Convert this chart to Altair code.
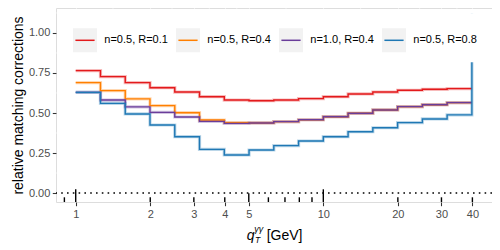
import altair as alt
import pandas as pd

# ---- data ----
edges = [1.0, 1.259, 1.585, 1.995, 2.512, 3.162, 3.981, 5.012, 6.310, 7.943,
         10.0, 12.589, 15.849, 19.953, 25.119, 31.623, 39.811]
names = ["n=0.5, R=0.1", "n=0.5, R=0.4", "n=1.0, R=0.4", "n=0.5, R=0.8"]
colors = ["#E31A1C", "#FF7F00", "#6A3D9A", "#1F78B4"]
red = [0.765, 0.727, 0.690, 0.658, 0.631, 0.602, 0.581, 0.577, 0.581, 0.590,
       0.602, 0.619, 0.631, 0.642, 0.648, 0.652]
orange = [0.690, 0.640, 0.588, 0.546, 0.502, 0.456, 0.440, 0.438, 0.446, 0.458,
          0.477, 0.498, 0.519, 0.540, 0.552, 0.565]
purple = [0.629, 0.581, 0.538, 0.504, 0.475, 0.448, 0.435, 0.438, 0.446, 0.458,
          0.477, 0.498, 0.519, 0.540, 0.552, 0.565]
blue = [0.629, 0.560, 0.494, 0.425, 0.352, 0.273, 0.238, 0.269, 0.296, 0.325,
        0.352, 0.383, 0.408, 0.440, 0.463, 0.488]
end_values = [0.652, 0.565, 0.565, 1.12]

x_major = [1, 2, 3, 4, 5, 10, 20, 30, 40]
x_minor = [1.414, 2.449, 3.464, 4.472, 7.071, 14.142, 24.495, 34.641]
y_major = [0.0, 0.25, 0.5, 0.75, 1.0]
y_minor = [0.125, 0.375, 0.625, 0.875, 1.125]
ticks_short = [0.9, 2, 3, 4, 6, 7, 8, 9, 20, 30, 40]
ticks_mid = [5]
ticks_long = [1, 10]

rows = []
for name, vals, endv in zip(names, [red, orange, purple, blue], end_values):
    for e, v in zip(edges[:-1], vals):
        rows.append({"series": name, "x": e, "y": v})
    rows.append({"series": name, "x": edges[-1], "y": endv})
df = pd.DataFrame(rows)

W, H = 436, 194
FONT = "Liberation Sans"

x_scale = alt.Scale(type="log", domain=[0.8325, 48.0], nice=False)
y_scale = alt.Scale(domain=[-0.056, 1.156], nice=False, zero=False)
col_scale = alt.Scale(domain=names, range=colors)

x_axis = alt.Axis(values=x_major, format="d", title=None, grid=True,
                  gridColor="white", gridWidth=1.07, domain=False,
                  tickColor="#333333", tickWidth=1.07, tickSize=3.7,
                  labelColor="#4D4D4D", labelFontSize=11, labelPadding=2.8,
                  labelFont=FONT)
y_axis = alt.Axis(values=y_major, format=".2f",
                  title="relative matching corrections", grid=True,
                  gridColor="white", gridWidth=1.07, domain=False,
                  tickColor="#333333", tickWidth=1.07, tickSize=3.7,
                  labelColor="#4D4D4D", labelFontSize=11, labelPadding=2.5,
                  labelFont=FONT, titleFont=FONT, titleFontSize=14,
                  titleFontWeight="normal", titleColor="black", titlePadding=3)


def X(field="x"):
    return alt.X(f"{field}:Q", scale=x_scale, axis=x_axis, title=None)


def Y(field="y"):
    return alt.Y(f"{field}:Q", scale=y_scale, axis=y_axis,
                 title="relative matching corrections")


xminor = alt.Chart(pd.DataFrame({"x": x_minor})).mark_rule(
    color="white", strokeWidth=0.53).encode(x=X())
yminor = alt.Chart(pd.DataFrame({"y": y_minor})).mark_rule(
    color="white", strokeWidth=0.53).encode(y=Y())

halo = alt.Chart(df).mark_line(interpolate="step-after", strokeWidth=3.2,
                               opacity=0.3, clip=True).encode(
    x=X(), y=Y(),
    color=alt.Color("series:N", scale=col_scale, legend=None, sort=names),
)

lines = alt.Chart(df).mark_line(interpolate="step-after", strokeWidth=1.4,
                                clip=True).encode(
    x=X(), y=Y(),
    color=alt.Color("series:N", scale=col_scale, legend=None, sort=names),
)

# legend: one symbol = grey key square (fill) + coloured line (dashed stroke
# that only shows the first horizontal segment of the path)
KEY_PATH = "M-0.8,0H0.8H1V-1H-1V1H1V0Z"
KEY_DASH = [19.2, 600]
legend_layer = alt.Chart(df).transform_filter("false").mark_point(
    filled=True, fill="#F2F2F2", shape=KEY_PATH, size=576, strokeWidth=1.5,
    strokeDash=KEY_DASH, opacity=1).encode(
    x=X(), y=Y(),
    stroke=alt.Stroke("series:N", scale=col_scale, sort=names,
                      legend=alt.Legend(
        orient="none", legendX=9.5, legendY=5.3, direction="horizontal",
        title=" ", titleFontSize=6, titlePadding=1.5, padding=6.5,
        fillColor="white", symbolType=KEY_PATH, symbolSize=576,
        symbolStrokeWidth=1.5, symbolDash=KEY_DASH, symbolOffset=0,
        symbolFillColor="#F2F2F2", symbolOpacity=1,
        labelFont=FONT, labelFontSize=11, labelColor="black",
        labelOffset=6.3, columnPadding=5.0, labelLimit=200)),
)

zero = alt.Chart(pd.DataFrame({"y": [0.0]})).mark_rule(
    color="black", strokeWidth=1.4, strokeDash=[1.6, 4.2]).encode(y=Y())


def logticks(vals, length):
    return alt.Chart(pd.DataFrame({"x": vals})).mark_rule(
        color="black", strokeWidth=1.4).encode(
        x=X(), y=alt.value(H), y2=alt.value(H - length))


lt_s = logticks(ticks_short, 4.7)
lt_m = logticks(ticks_mid, 8.7)
lt_l = logticks(ticks_long, 12.7)

# x-axis title q_T^{γγ} [GeV] built from text pieces
tq = alt.Chart(pd.DataFrame({"t": ["q"]})).mark_text(
    font=FONT, fontSize=14, fontStyle="italic", align="left",
    baseline="alphabetic", color="black").encode(
    text="t:N", x=alt.value(190.7), y=alt.value(232))
tsub = alt.Chart(pd.DataFrame({"t": ["T"]})).mark_text(
    font=FONT, fontSize=8.5, fontStyle="italic", align="left",
    baseline="alphabetic", color="black").encode(
    text="t:N", x=alt.value(199), y=alt.value(234.7))
tsup = alt.Chart(pd.DataFrame({"t": ["γγ"]})).mark_text(
    font=FONT, fontSize=9, fontStyle="italic", align="left",
    baseline="alphabetic", color="black").encode(
    text="t:N", x=alt.value(198.3), y=alt.value(223.7))
tgev = alt.Chart(pd.DataFrame({"t": ["[GeV]"]})).mark_text(
    font=FONT, fontSize=14, align="left", baseline="alphabetic",
    color="black").encode(
    text="t:N", x=alt.value(210.7), y=alt.value(232))

chart = alt.layer(
    xminor, yminor, halo, lines, legend_layer, zero, lt_s, lt_m, lt_l,
    tq, tsub, tsup, tgev
).resolve_scale(color="independent", stroke="independent").properties(
    width=W, height=H,
    autosize=alt.AutoSizeParams(type="none"),
    padding={"left": 48, "top": 0, "right": 0, "bottom": 42},
).configure_view(fill="#EBEBEB", stroke=None).configure(font=FONT)

chart.save("out.html", embed_options={"renderer": "svg", "actions": False})
